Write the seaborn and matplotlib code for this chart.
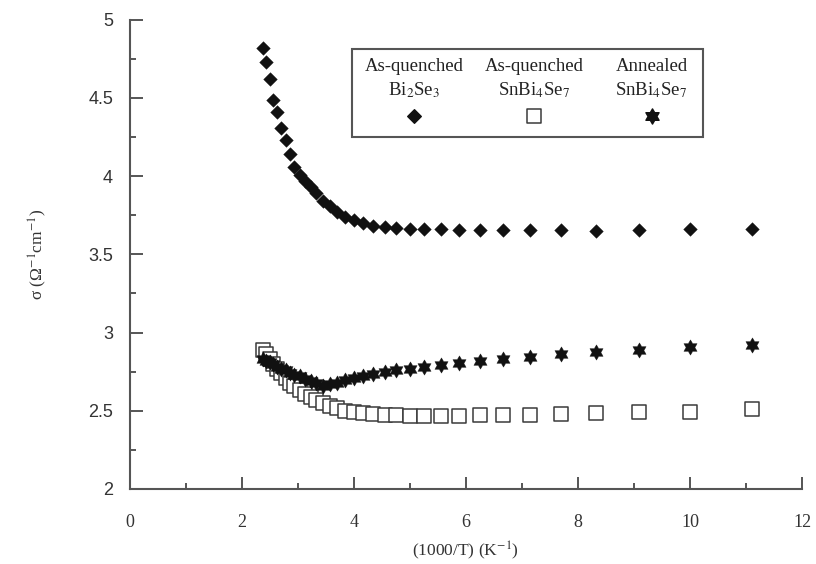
import numpy as np
import pandas as pd
import matplotlib
matplotlib.use("Agg")
import matplotlib.pyplot as plt
from matplotlib.path import Path
from matplotlib.patches import Rectangle
import seaborn as sns

# ---- data ----
inv_T = [2.38, 2.44, 2.50, 2.56, 2.63, 2.70, 2.78, 2.86, 2.94, 3.03, 3.125, 3.23,
         3.33, 3.45, 3.57, 3.70, 3.85, 4.00, 4.17, 4.35, 4.55, 4.76, 5.00, 5.26,
         5.56, 5.88, 6.25, 6.67, 7.14, 7.69, 8.33, 9.09, 10.00, 11.11]

bi2se3_quenched = [4.82, 4.73, 4.62, 4.49, 4.41, 4.31, 4.23, 4.14, 4.06, 4.01, 3.97, 3.93,
                   3.89, 3.84, 3.81, 3.77, 3.74, 3.72, 3.70, 3.68, 3.675, 3.67, 3.665, 3.66,
                   3.66, 3.655, 3.655, 3.655, 3.655, 3.655, 3.65, 3.655, 3.66, 3.66]

snbi4se7_quenched = [2.89, 2.86, 2.83, 2.80, 2.77, 2.74, 2.71, 2.68, 2.66, 2.63, 2.61, 2.59,
                     2.57, 2.55, 2.53, 2.515, 2.50, 2.49, 2.485, 2.48, 2.475, 2.47, 2.465, 2.465,
                     2.465, 2.465, 2.47, 2.475, 2.475, 2.48, 2.485, 2.49, 2.495, 2.51]

snbi4se7_annealed = [2.83, 2.82, 2.81, 2.80, 2.78, 2.77, 2.76, 2.74, 2.73, 2.72, 2.70, 2.69,
                     2.675, 2.66, 2.67, 2.68, 2.695, 2.71, 2.72, 2.735, 2.75, 2.76, 2.77, 2.78,
                     2.795, 2.805, 2.82, 2.83, 2.845, 2.86, 2.875, 2.89, 2.905, 2.92]

legend_titles = ["As-quenched", "As-quenched", "Annealed"]
legend_names = [r"Bi$_2$Se$_3$", r"SnBi$_4$Se$_7$", r"SnBi$_4$Se$_7$"]

x_ticks = [0, 2, 4, 6, 8, 10, 12]
y_ticks = [2, 2.5, 3, 3.5, 4, 4.5, 5]

# ---- style ----
sns.set_style("ticks")
plt.rcParams["font.family"] = ["Liberation Serif", "DejaVu Serif"]
plt.rcParams["mathtext.fontset"] = "stix"

fig = plt.figure(figsize=(8.16, 5.64), dpi=100)
ax = fig.add_axes([0.159, 0.133, 0.824, 0.832])

star = Path.unit_regular_star(6, 0.577)

df_a = pd.DataFrame({"x": inv_T, "y": snbi4se7_quenched})
df_b = pd.DataFrame({"x": inv_T, "y": snbi4se7_annealed})
df_c = pd.DataFrame({"x": inv_T, "y": bi2se3_quenched})

sns.scatterplot(data=df_a, x="x", y="y", ax=ax, marker="s", s=92,
                facecolor="white", edgecolor="#3a3a3a", linewidth=1.1, zorder=3)
sns.scatterplot(data=df_b, x="x", y="y", ax=ax, marker=star, s=120,
                color="#111111", edgecolor="#111111", linewidth=0.3, zorder=4)
sns.scatterplot(data=df_c, x="x", y="y", ax=ax, marker="D", s=48,
                color="#111111", edgecolor="#111111", linewidth=0.3, zorder=4)

ax.set_xlim(0, 12)
ax.set_ylim(2, 5)
ax.set_xticks(x_ticks)
ax.set_yticks(y_ticks)
ax.set_xticks(np.arange(1, 12, 2), minor=True)
ax.set_yticks(np.arange(2.25, 5, 0.5), minor=True)
ax.set_xticklabels([str(t) for t in x_ticks])
ax.set_yticklabels([f"{t:g}" for t in y_ticks], family="Liberation Sans")

sns.despine(ax=ax)
for side in ["left", "bottom"]:
    ax.spines[side].set_color("#555555")
    ax.spines[side].set_linewidth(1.5)

ax.tick_params(which="major", direction="in", length=9, width=1.4, color="#555555",
               labelsize=13, labelcolor="#333333")
ax.tick_params(which="minor", direction="in", length=4.3, width=1.4, color="#555555")
ax.tick_params(axis="x", which="major", pad=18)
ax.tick_params(axis="y", which="major", pad=12)

ax.set_xlabel(r"(1000/T) (K$^{-1}$)", fontsize=12.5, color="#333333", labelpad=6)
ax.set_ylabel("σ (Ω$^{-1}$cm$^{-1}$)", fontsize=12.5, color="#333333", labelpad=28)

# ---- legend box ----
box = Rectangle((0.330, 0.750), 0.523, 0.187, transform=ax.transAxes, fill=False,
                edgecolor="#555555", linewidth=1.5, zorder=5)
ax.add_patch(box)
col_x = [0.4226, 0.601, 0.776]
for i, cx in enumerate(col_x):
    ax.text(cx, 0.900, legend_titles[i], transform=ax.transAxes, ha="center",
            va="center", fontsize=13.5, color="#222222")
    ax.text(cx, 0.850, legend_names[i], transform=ax.transAxes, ha="center",
            va="center", fontsize=13.5, color="#222222")
ax.scatter([col_x[0]], [0.794], transform=ax.transAxes, marker="D", s=48,
           color="#111111", zorder=6)
ax.scatter([col_x[1]], [0.794], transform=ax.transAxes, marker="s", s=92,
           facecolor="white", edgecolor="#3a3a3a", linewidth=1.1, zorder=6)
ax.scatter([col_x[2]], [0.794], transform=ax.transAxes, marker=star, s=120,
           color="#111111", zorder=6)

fig.savefig("out.png", dpi=100)
